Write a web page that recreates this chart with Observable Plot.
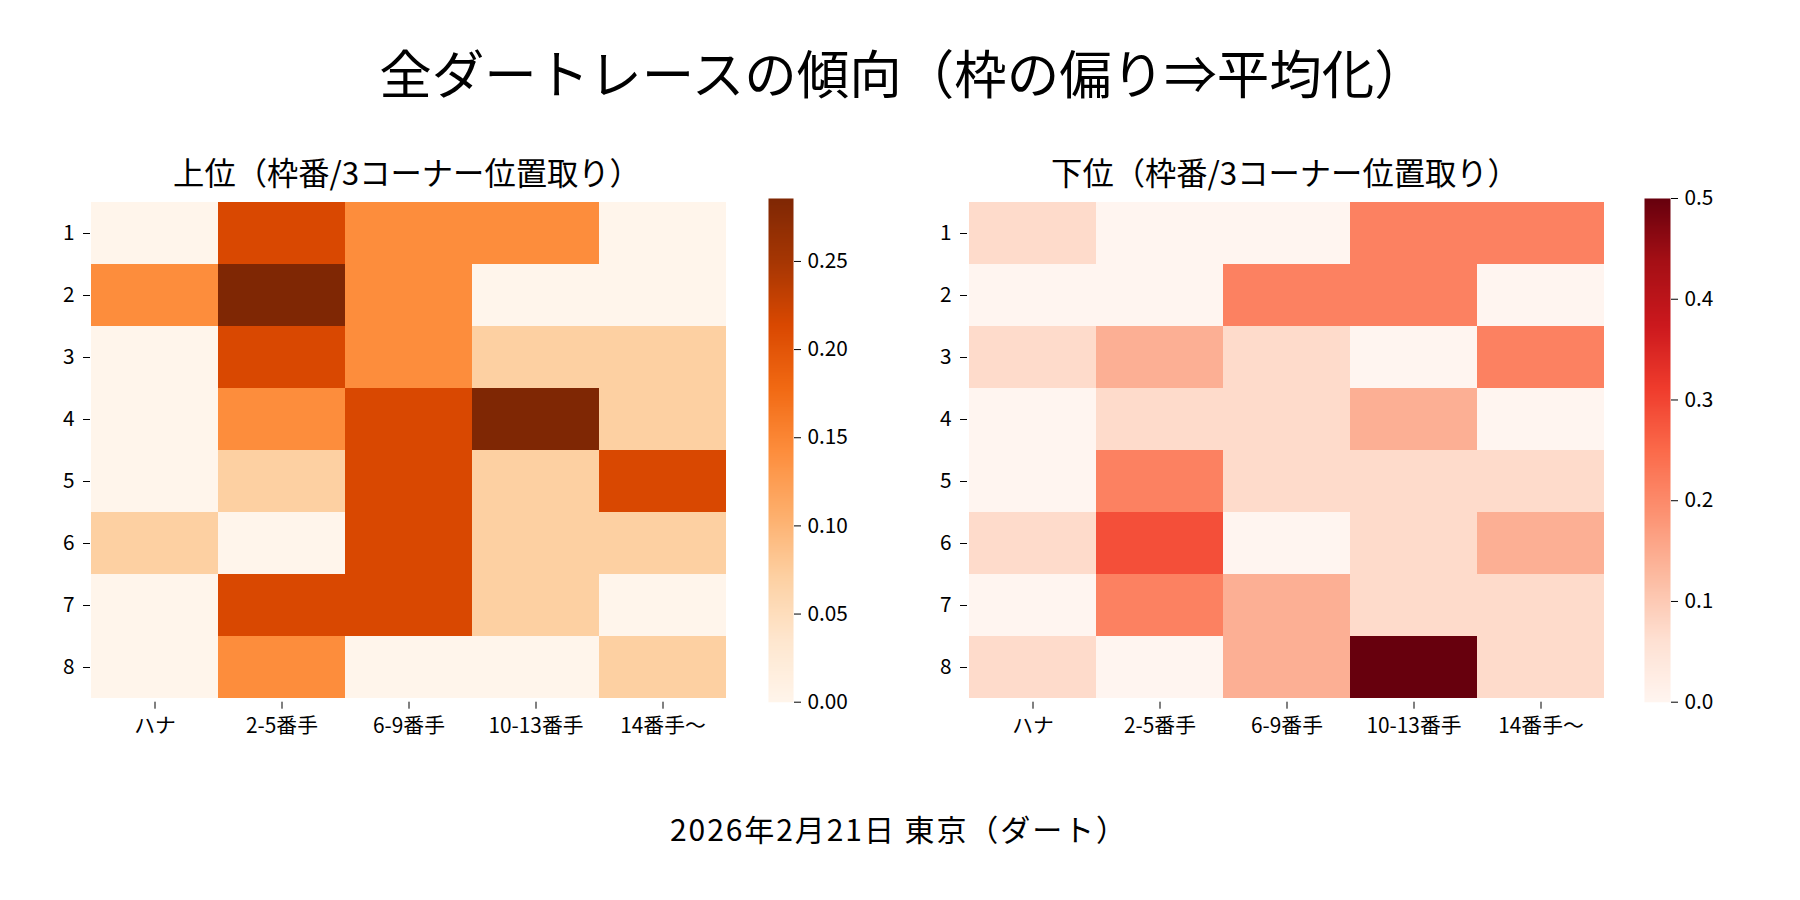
<!DOCTYPE html>
<html>
<head>
<meta charset="utf-8">
<script src="https://cdn.jsdelivr.net/npm/d3@7"></script>
<script src="https://cdn.jsdelivr.net/npm/@observablehq/plot@0.6"></script>
<style>
  html, body { margin: 0; padding: 0; background: #fff; }
  #chart { position: relative; width: 1800px; height: 900px; background: #fff; overflow: hidden; }
  #chart > svg { position: absolute; left: 0; top: 0; }
</style>
</head>
<body>
<div id="chart"></div>
<script>
// ---- data ----
const mainTitle = "全ダートレースの傾向（枠の偏り⇒平均化）";
const topTitle = "上位（枠番/3コーナー位置取り）";
const bottomTitle = "下位（枠番/3コーナー位置取り）";
const caption = "2026年2月21日 東京（ダート）";

const positions = ["ハナ", "2-5番手", "6-9番手", "10-13番手", "14番手〜"];
const frames = ["1", "2", "3", "4", "5", "6", "7", "8"];

// 上位 (rows = 枠 1..8, columns = positions)
const topValues = [
  [0.0000, 0.2143, 0.1429, 0.1429, 0.0000],
  [0.1429, 0.2857, 0.1429, 0.0000, 0.0000],
  [0.0000, 0.2143, 0.1429, 0.0714, 0.0714],
  [0.0000, 0.1429, 0.2143, 0.2857, 0.0714],
  [0.0000, 0.0714, 0.2143, 0.0714, 0.2143],
  [0.0714, 0.0000, 0.2143, 0.0714, 0.0714],
  [0.0000, 0.2143, 0.2143, 0.0714, 0.0000],
  [0.0000, 0.1429, 0.0000, 0.0000, 0.0714]
];

// 下位
const bottomValues = [
  [0.0714, 0.0000, 0.0000, 0.2143, 0.2143],
  [0.0000, 0.0000, 0.2143, 0.2143, 0.0000],
  [0.0714, 0.1429, 0.0714, 0.0000, 0.2143],
  [0.0000, 0.0714, 0.0714, 0.1429, 0.0000],
  [0.0000, 0.2143, 0.0714, 0.0714, 0.0714],
  [0.0714, 0.2857, 0.0000, 0.0714, 0.1429],
  [0.0000, 0.2143, 0.1429, 0.0714, 0.0714],
  [0.0714, 0.0000, 0.1429, 0.5000, 0.0714]
];

const topTicks = [0.00, 0.05, 0.10, 0.15, 0.20, 0.25];
const bottomTicks = [0.0, 0.1, 0.2, 0.3, 0.4, 0.5];

// matplotlib colormaps (Oranges / Reds)
const orangesColors = ["#fff5eb", "#fee6ce", "#fdd0a2", "#fdae6b", "#fd8d3c", "#f16913", "#d94801", "#a63603", "#7f2704"];
const redsColors = ["#fff5f0", "#fee0d2", "#fcbba1", "#fc9272", "#fb6a4a", "#ef3b2c", "#cb181d", "#a50f15", "#67000d"];

// ---- layout ----
const W = 1800, H = 900;
const plotTop = 198, plotBottom = 701.7;
const font = "'Noto Sans CJK JP', 'Noto Sans', sans-serif";
const baseStyle = {
  fontFamily: font,
  fontSize: "20.8px",
  background: "transparent",
  color: "#000",
  overflow: "visible"
};

const chart = document.getElementById("chart");

function toRows(values) {
  return frames.flatMap((f, i) => positions.map((p, j) => ({frame: f, pos: p, value: values[i][j]})));
}

function colorScale(colors, vmax) {
  return {
    type: "linear",
    domain: colors.map((_, k) => vmax * k / (colors.length - 1)),
    range: colors,
    interpolate: "rgb",
    clamp: true
  };
}

function heatmap(values, colors, left, right) {
  const rows = toRows(values);
  const vmax = d3.max(rows, d => d.value);
  return Plot.plot({
    width: W, height: H,
    marginLeft: left, marginRight: W - right,
    marginTop: plotTop, marginBottom: H - plotBottom,
    style: baseStyle,
    x: {type: "band", domain: positions, padding: 0, tickSize: 7, tickPadding: 9, label: null},
    y: {type: "band", domain: frames, padding: 0, tickSize: 7, tickPadding: 9, label: null},
    color: colorScale(colors, vmax),
    marks: [
      Plot.cell(rows, {x: "pos", y: "frame", fill: "value", inset: 0, shapeRendering: "crispEdges"})
    ]
  });
}

function colorbar(values, colors, ticks, fmt, left, right) {
  const vmax = d3.max(values.flat());
  return Plot.plot({
    width: W, height: H,
    marginLeft: left, marginRight: W - right,
    marginTop: plotTop, marginBottom: H - plotBottom,
    style: baseStyle,
    x: {domain: [0, 1], axis: null},
    y: {domain: [0, vmax], axis: "right", ticks: ticks, tickFormat: d3.format(fmt), tickSize: 7, tickPadding: 7, label: null},
    color: colorScale(colors, vmax),
    marks: [
      Plot.raster({x1: 0, x2: 1, y1: 0, y2: vmax, width: 1, height: 512, fill: (x, y) => y, imageRendering: "auto"})
    ]
  });
}

chart.append(heatmap(topValues, orangesColors, 90, 727.7));
chart.append(colorbar(topValues, orangesColors, topTicks, ".2f", 768, 793));
chart.append(heatmap(bottomValues, redsColors, 967, 1605));
chart.append(colorbar(bottomValues, redsColors, bottomTicks, ".1f", 1644, 1670));

// ---- titles (real text) ----
const svgNS = "http://www.w3.org/2000/svg";
const overlay = document.createElementNS(svgNS, "svg");
overlay.setAttribute("width", W);
overlay.setAttribute("height", H);
overlay.style.fontFamily = font;
function addText(str, x, y, size, len) {
  const t = document.createElementNS(svgNS, "text");
  t.setAttribute("x", x);
  t.setAttribute("y", y);
  t.setAttribute("text-anchor", "middle");
  t.setAttribute("font-size", size);
  t.setAttribute("fill", "#000");
  if (len) {
    t.setAttribute("textLength", len);
    t.setAttribute("lengthAdjust", "spacing");
  }
  t.textContent = str;
  overlay.appendChild(t);
}
addText(mainTitle, 903, 94, 52.5);
addText(topTitle, 407, 185, 31.3);
addText(bottomTitle, 1285, 185, 31.3);
addText(caption, 898, 841, 30, 456);
chart.append(overlay);
</script>
</body>
</html>
